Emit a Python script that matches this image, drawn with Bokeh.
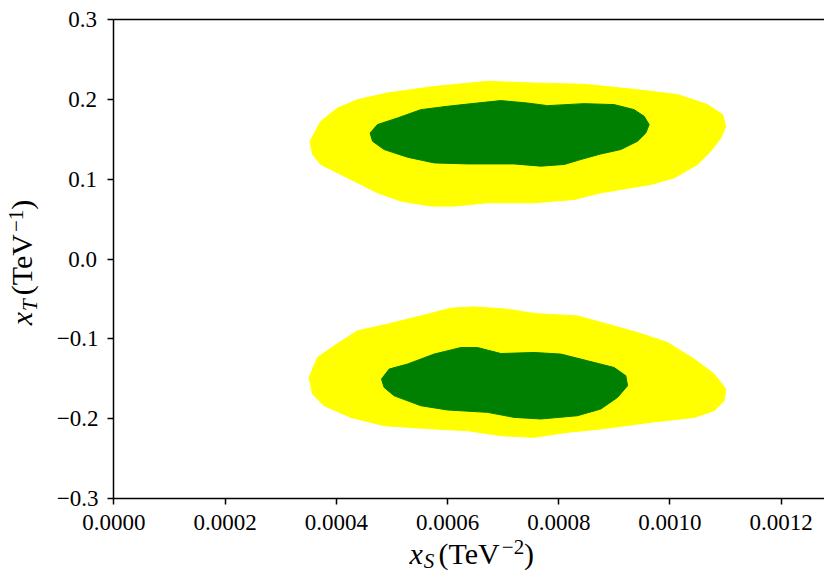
import math
from bokeh.plotting import figure
from bokeh.models import Range1d, FixedTicker, CustomJSTickFormatter, Label, LinearAxis
from bokeh.embed import file_html
from bokeh.resources import INLINE

# ---------------- data ----------------
x_ticks = [0.0, 0.0002, 0.0004, 0.0006, 0.0008, 0.0010, 0.0012]
x_tick_labels = ["0.0000", "0.0002", "0.0004", "0.0006", "0.0008", "0.0010", "0.0012"]
y_ticks = [-0.3, -0.2, -0.1, 0.0, 0.1, 0.2, 0.3]
y_tick_labels = ["\u22120.3", "\u22120.2", "\u22120.1", "0.0", "0.1", "0.2", "0.3"]
x_limits = [0.0, 0.0012778]
y_limits = [-0.3, 0.3]

# outer (yellow) region, x_T > 0 lobe
upper_outer_xS = [3.529e-4, 3.722e-4, 4.022e-4, 4.382e-4, 4.921e-4, 5.754e-4, 6.719e-4, 7.552e-4,
                  8.451e-4, 9.350e-4, 10.136e-4, 10.675e-4, 10.944e-4, 11.004e-4, 10.914e-4, 10.734e-4,
                  10.495e-4, 10.075e-4, 9.655e-4, 9.116e-4, 8.756e-4, 8.277e-4, 7.557e-4, 6.719e-4,
                  6.119e-4, 5.700e-4, 5.161e-4, 4.741e-4, 4.442e-4, 4.082e-4, 3.722e-4, 3.573e-4]
upper_outer_xT = [0.1475, 0.1725, 0.1890, 0.1996, 0.2079, 0.2160, 0.2225, 0.2204,
                  0.2188, 0.2125, 0.2059, 0.1934, 0.1809, 0.1660, 0.1516, 0.1350,
                  0.1184, 0.1016, 0.0934, 0.0871, 0.0829, 0.0746, 0.0704, 0.0704,
                  0.0663, 0.0663, 0.0725, 0.0829, 0.0934, 0.1059, 0.1184, 0.1309]

# inner (green) region, x_T > 0 lobe
upper_inner_xS = [4.608e-4, 4.741e-4, 5.101e-4, 5.520e-4, 6.000e-4, 6.539e-4, 6.959e-4, 7.438e-4,
                  7.798e-4, 8.456e-4, 8.996e-4, 9.355e-4, 9.535e-4, 9.625e-4, 9.566e-4, 9.416e-4,
                  9.116e-4, 8.756e-4, 8.396e-4, 8.097e-4, 7.678e-4, 7.198e-4, 6.360e-4, 5.759e-4,
                  5.281e-4, 4.860e-4, 4.652e-4]
upper_inner_xT = [0.1579, 0.1684, 0.1766, 0.1871, 0.1913, 0.1954, 0.1984, 0.1954,
                  0.1921, 0.1946, 0.1934, 0.1871, 0.1788, 0.1684, 0.1579, 0.1475,
                  0.1371, 0.1316, 0.1246, 0.1184, 0.1163, 0.1191, 0.1191, 0.1204,
                  0.1275, 0.1371, 0.1475]

# outer (yellow) region, x_T < 0 lobe
lower_outer_xS = [3.512e-4, 3.662e-4, 3.961e-4, 4.382e-4, 4.921e-4, 5.520e-4, 6.060e-4, 6.478e-4,
                  7.079e-4, 7.557e-4, 8.337e-4, 8.877e-4, 9.416e-4, 9.956e-4, 10.434e-4, 10.794e-4,
                  11.004e-4, 10.974e-4, 10.794e-4, 10.434e-4, 9.655e-4, 8.756e-4, 8.158e-4, 7.557e-4,
                  6.959e-4, 6.360e-4, 5.759e-4, 4.860e-4, 4.262e-4, 3.781e-4, 3.573e-4]
lower_outer_xT = [-0.1484, -0.1234, -0.1088, -0.0900, -0.0816, -0.0713, -0.0616, -0.0600,
                  -0.0629, -0.0684, -0.0713, -0.0816, -0.0921, -0.1046, -0.1254, -0.1441,
                  -0.1629, -0.1775, -0.1900, -0.1984, -0.2046, -0.2129, -0.2171, -0.2234,
                  -0.2213, -0.2150, -0.2129, -0.2088, -0.1984, -0.1838, -0.1691]

# inner (green) region, x_T < 0 lobe
lower_inner_xS = [4.813e-4, 4.950e-4, 5.281e-4, 5.759e-4, 6.240e-4, 6.539e-4, 6.959e-4, 7.557e-4,
                  8.038e-4, 8.517e-4, 8.996e-4, 9.206e-4, 9.237e-4, 9.057e-4, 8.756e-4, 8.337e-4,
                  7.678e-4, 7.198e-4, 6.719e-4, 6.000e-4, 5.520e-4, 5.040e-4, 4.860e-4]
lower_inner_xT = [-0.1504, -0.1379, -0.1316, -0.1191, -0.1109, -0.1109, -0.1184, -0.1171,
                  -0.1191, -0.1275, -0.1359, -0.1463, -0.1588, -0.1734, -0.1879, -0.1963,
                  -0.2004, -0.1984, -0.1921, -0.1891, -0.1838, -0.1713, -0.1609]

outer_color = "#ffff00"
inner_color = "#008000"

# ---------------- layout geometry (pixels of the page) ----------------
W, H = 824, 572
AX_LEFT_PX, AX_TOP_PX, AX_BOTTOM_PX = 113.3, 19.0, 498.0
SX = (W - AX_LEFT_PX) / (x_limits[1] - x_limits[0])            # px per x unit
SY = (AX_BOTTOM_PX - AX_TOP_PX) / (y_limits[1] - y_limits[0])  # px per y unit

def px_to_x(px):
    return x_limits[0] + (px - AX_LEFT_PX) / SX

def py_to_y(py):
    return y_limits[1] - (py - AX_TOP_PX) / SY

FONT = "Liberation Serif"
# the frame covers the whole canvas so that the composed axis titles are not clipped
p = figure(width=W, height=H, output_backend="svg", toolbar_location=None,
           x_range=Range1d(px_to_x(0), px_to_x(W)), y_range=Range1d(py_to_y(H), py_to_y(0)),
           x_axis_location=None, y_axis_location=None,
           min_border_left=0, min_border_right=0, min_border_top=0, min_border_bottom=0)
p.outline_line_color = None
p.grid.visible = False
p.background_fill_color = "white"
p.border_fill_color = "white"

p.patches([upper_outer_xS, lower_outer_xS], [upper_outer_xT, lower_outer_xT],
          fill_color=outer_color, line_color=outer_color, line_width=1)
p.patches([upper_inner_xS, lower_inner_xS], [upper_inner_xT, lower_inner_xT],
          fill_color=inner_color, line_color=inner_color, line_width=1)

fmt_code = """
let best = 0; let bd = Infinity;
for (let i = 0; i < tvals.length; i++) {
  const d = Math.abs(tvals[i] - tick);
  if (d < bd) { bd = d; best = i; }
}
let s = tlabs[best];
if (pad && s.charAt(0) != '\\u2212') s = '\\u2007' + s;
return s;
"""

def style_axis(ax):
    ax.axis_line_color = "black"
    ax.axis_line_width = 1.5
    ax.major_tick_line_color = "black"
    ax.major_tick_line_width = 1.5
    ax.major_tick_out = 0
    ax.major_tick_in = 6
    ax.minor_tick_line_color = None
    ax.major_label_text_font = FONT
    ax.major_label_text_font_size = "23px"
    ax.major_label_text_color = "black"

# x axis (bottom spine), fixed at y = -0.3, labels pushed below the spine
xax = LinearAxis(fixed_location=y_limits[0], bounds=(x_limits[0], x_limits[1]),
                 ticker=FixedTicker(ticks=x_ticks),
                 formatter=CustomJSTickFormatter(args=dict(tvals=x_ticks, tlabs=x_tick_labels, pad=False),
                                                 code=fmt_code))
style_axis(xax)
xax.major_label_standoff = -31
p.add_layout(xax, "above")

# y axis (left spine), fixed at x = 0, labels pushed left of the spine
yax = LinearAxis(fixed_location=x_limits[0], bounds=(y_limits[0], y_limits[1]),
                 ticker=FixedTicker(ticks=y_ticks),
                 formatter=CustomJSTickFormatter(args=dict(tvals=y_ticks, tlabs=y_tick_labels, pad=True),
                                                 code=fmt_code))
style_axis(yax)
yax.major_label_standoff = -57
p.add_layout(yax, "right")

# top spine
top = LinearAxis(fixed_location=y_limits[1], bounds=(x_limits[0], x_limits[1]),
                 ticker=FixedTicker(ticks=[]))
top.axis_line_color = "black"
top.axis_line_width = 1.5
top.major_tick_line_color = None
top.minor_tick_line_color = None
top.major_label_text_font_size = "0px"
top.major_tick_out = 0
top.major_tick_in = 0
top.major_label_standoff = 0
p.add_layout(top, "below")

# ---------------- axis titles (composed, real text) ----------------
MAIN, SMALL = 30, 21
MID = 0.3375  # baseline offset of a "middle"-anchored text, in em

def add_h(text, left_px, baseline_py, size, italic=False):
    p.add_layout(Label(x=px_to_x(left_px), y=py_to_y(baseline_py - MID * size),
                       x_units="data", y_units="data",
                       text=text, text_font=FONT, text_font_size=f"{size}px",
                       text_font_style="italic" if italic else "normal",
                       text_color="black", text_align="left", text_baseline="middle"))

def add_v(text, start_py, baseline_px, size, italic=False):
    p.add_layout(Label(x=px_to_x(baseline_px - MID * size), y=py_to_y(start_py),
                       x_units="data", y_units="data",
                       text=text, text_font=FONT, text_font_size=f"{size}px",
                       text_font_style="italic" if italic else "normal",
                       text_color="black", text_align="left", text_baseline="middle",
                       angle=math.pi / 2))

# x label: x_S (TeV^-2)
add_h("x", 409.0, 563, MAIN, italic=True)
add_h("S", 423.3, 568, SMALL, italic=True)
add_h("(", 438.0, 563, MAIN)
add_h("TeV", 448.0, 563, MAIN)
add_h("\u22122", 501.3, 554, SMALL)
add_h(")", 523.6, 563, MAIN)

# y label: x_T (TeV^-1), rotated, reading upwards
add_v("x", 324.8, 31, MAIN, italic=True)
add_v("T", 310.5, 37, SMALL, italic=True)
add_v("(", 294.8, 31, MAIN)
add_v("TeV", 284.8, 31, MAIN)
add_v("\u22121", 231.5, 23, SMALL)
add_v(")", 209.2, 31, MAIN)

open("out.html", "w").write(file_html(p, INLINE))
